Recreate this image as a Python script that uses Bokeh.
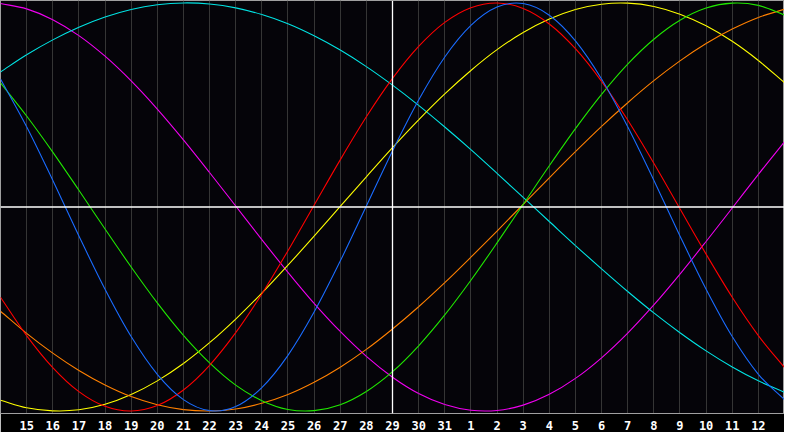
import numpy as np
from bokeh.plotting import figure
from bokeh.models import ColumnDataSource, FixedTicker, Span, Range1d
from bokeh.embed import file_html
from bokeh.resources import INLINE

# Day labels shown along the bottom (index 0 = left edge, 15 = today)
days = [14, 15, 16, 17, 18, 19, 20, 21, 22, 23, 24, 25, 26, 27, 28, 29, 30, 31,
        1, 2, 3, 4, 5, 6, 7, 8, 9, 10, 11, 12, 13]
today_index = 15

# Cycle values (-1 .. 1) read per day from the reference
physical = [0.627, 0.393, 0.131, -0.142, -0.403, -0.635, -0.82, -0.944, -0.998, -0.978, -0.885, -0.727, -0.515, -0.265, 0.005, 0.275, 0.524, 0.735, 0.89, 0.98, 0.997, 0.94, 0.814, 0.627, 0.393, 0.131, -0.142, -0.403, -0.635, -0.82, -0.944]
emotional = [-0.442, -0.63, -0.787, -0.905, -0.977, -1, -0.973, -0.897, -0.776, -0.616, -0.426, -0.214, 0.009, 0.231, 0.442, 0.63, 0.787, 0.905, 0.977, 1, 0.973, 0.897, 0.776, 0.616, 0.426, 0.214, -0.009, -0.231, -0.442, -0.63, -0.787]
intellectual = [0.608, 0.446, 0.269, 0.082, -0.108, -0.294, -0.47, -0.629, -0.764, -0.873, -0.949, -0.992, -0.998, -0.969, -0.904, -0.807, -0.68, -0.529, -0.359, -0.176, 0.013, 0.202, 0.384, 0.552, 0.7, 0.822, 0.915, 0.975, 0.999, 0.988, 0.941]
intuitive = [0.997, 0.971, 0.918, 0.84, 0.739, 0.618, 0.48, 0.329, 0.169, 0.005, -0.16, -0.32, -0.472, -0.61, -0.732, -0.834, -0.914, -0.968, -0.996, -0.997, -0.971, -0.918, -0.84, -0.739, -0.618, -0.48, -0.329, -0.169, -0.005, 0.16, 0.32]
aesthetic = [-0.947, -0.984, -0.999, -0.994, -0.967, -0.919, -0.852, -0.767, -0.665, -0.549, -0.422, -0.285, -0.143, 0.003, 0.148, 0.291, 0.427, 0.554, 0.669, 0.771, 0.855, 0.921, 0.968, 0.994, 0.999, 0.983, 0.945, 0.888, 0.812, 0.718, 0.609]
awareness = [-0.511, -0.619, -0.716, -0.801, -0.872, -0.929, -0.969, -0.993, -1, -0.99, -0.962, -0.919, -0.859, -0.785, -0.698, -0.598, -0.489, -0.371, -0.246, -0.118, 0.013, 0.143, 0.271, 0.395, 0.511, 0.619, 0.716, 0.801, 0.872, 0.929, 0.969]
spiritual = [0.662, 0.746, 0.819, 0.881, 0.931, 0.968, 0.991, 1, 0.995, 0.976, 0.943, 0.898, 0.839, 0.769, 0.688, 0.597, 0.498, 0.392, 0.281, 0.165, 0.047, -0.071, -0.189, -0.303, -0.414, -0.519, -0.616, -0.705, -0.784, -0.852, -0.908]

series = [
    ("intuitive", intuitive, "#f000f0"),
    ("spiritual", spiritual, "#00e4e4"),
    ("aesthetic", aesthetic, "#ffff00"),
    ("awareness", awareness, "#ff8000"),
    ("intellectual", intellectual, "#20e800"),
    ("emotional", emotional, "#ff0000"),
    ("physical", physical, "#1a6cff"),
]

idx = np.arange(len(days), dtype=float)

p = figure(width=784, height=432, output_backend="svg", toolbar_location=None,
           x_range=Range1d(0, len(days) - 1), y_range=Range1d(-1.012, 1.012),
           min_border_left=0, min_border_right=0, min_border_top=0,
           min_border_bottom=19)
p.background_fill_color = "#050409"
p.border_fill_color = "#000000"
p.outline_line_color = "#a0a0a0"
p.outline_line_width = 1

p.yaxis.visible = False
p.ygrid.visible = False

ticks = [int(i) for i in idx[1:-1]]
p.xaxis.ticker = FixedTicker(ticks=ticks)
p.xaxis.major_label_overrides = {i: str(days[i]) for i in ticks}
p.xaxis.major_tick_line_color = None
p.xaxis.minor_tick_line_color = None
p.xaxis.axis_line_color = "#a0a0a0"
p.xaxis.major_label_text_color = "#ffffff"
p.xaxis.major_label_text_font = "DejaVu Sans Mono"
p.xaxis.major_label_text_font_style = "bold"
p.xaxis.major_label_text_font_size = "12px"
p.xaxis.major_label_standoff = 1

p.xgrid.ticker = FixedTicker(ticks=ticks)
p.xgrid.grid_line_color = "#353535"
p.xgrid.grid_line_width = 1


def smooth_segments(x, y):
    """Draw the daily values as a smooth curve (Catmull-Rom -> cubic Bezier)."""
    y = np.asarray(y, dtype=float)
    xp = np.concatenate([[2 * x[0] - x[1]], x, [2 * x[-1] - x[-2]]])
    yp = np.concatenate([[2 * y[0] - y[1]], y, [2 * y[-1] - y[-2]]])
    n = len(x) - 1
    x0, y0 = xp[1:n + 1], yp[1:n + 1]
    x1, y1 = xp[2:n + 2], yp[2:n + 2]
    cx0 = x0 + (xp[2:n + 2] - xp[0:n]) / 6
    cy0 = y0 + (yp[2:n + 2] - yp[0:n]) / 6
    cx1 = x1 - (xp[3:n + 3] - xp[1:n + 1]) / 6
    cy1 = y1 - (yp[3:n + 3] - yp[1:n + 1]) / 6
    return dict(x0=x0, y0=y0, x1=x1, y1=y1, cx0=cx0, cy0=cy0, cx1=cx1, cy1=cy1)


for name, vals, color in series:
    src = ColumnDataSource(smooth_segments(idx, vals))
    p.bezier(x0="x0", y0="y0", x1="x1", y1="y1", cx0="cx0", cy0="cy0",
             cx1="cx1", cy1="cy1", source=src, line_color=color, line_width=1.1)

p.add_layout(Span(location=0, dimension="width", line_color="#ffffff", line_width=1.3))
p.add_layout(Span(location=today_index, dimension="height", line_color="#ffffff", line_width=1.3))

open("out.html", "w").write(file_html(p, INLINE))
